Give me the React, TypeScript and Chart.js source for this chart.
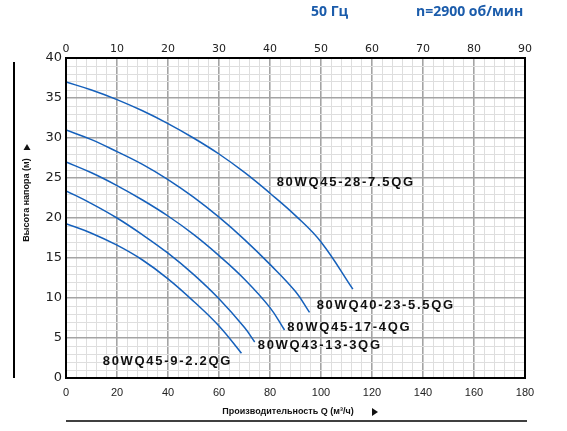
import React, { useEffect, useRef } from "react";
import { Chart, registerables } from "chart.js";

Chart.register(...registerables);

// ---- data ----
const seriesNames = [
  "80WQ45-28-7.5QG",
  "80WQ40-23-5.5QG",
  "80WQ45-17-4QG",
  "80WQ43-13-3QG",
  "80WQ45-9-2.2QG",
];
const q1 = [0, 10, 20, 30, 40, 50, 60, 70, 80, 90, 100, 112.5];
const h1 = [37, 36, 34.8, 33.4, 31.8, 30.0, 28.0, 25.7, 23.1, 20.3, 17.0, 11.1];
const q2 = [0, 10, 20, 30, 40, 50, 60, 70, 80, 90, 95.5];
const h2 = [31, 29.8, 28.3, 26.7, 24.8, 22.6, 20.1, 17.3, 14.2, 10.8, 8.2];
const q3 = [0, 10, 20, 30, 40, 50, 60, 70, 80, 85.7];
const h3 = [27, 25.65, 24.05, 22.25, 20.25, 17.95, 15.3, 12.35, 8.8, 6.0];
const q4 = [0, 10, 20, 30, 40, 50, 60, 70, 74];
const h4 = [23.4, 21.8, 20.0, 17.9, 15.6, 12.95, 9.9, 6.3, 4.5];
const q5 = [0, 10, 20, 30, 40, 50, 60, 68.8];
const h5 = [19.3, 18.1, 16.6, 14.75, 12.4, 9.6, 6.5, 3.1];

const labelQ = [82.6, 98.3, 86.8, 75.2, 14.4];
const labelH = [24.5, 9.1, 6.35, 4.1, 2.1];

const title1 = "50 Гц";
const title2 = "n=2900 об/мин";
const yTitle = "Высота напора (м)";
const xTitle = "Производительность Q (м³/ч)";

const qMax = 180;
const hMax = 40;
const topMax = 90;

const LINE = "#1560bb";

export default function App() {
  const ref = useRef<HTMLCanvasElement>(null);

  useEffect(() => {
    const canvas = ref.current!;
    const qs = [q1, q2, q3, q4, q5];
    const hs = [h1, h2, h3, h4, h5];
    const datasets = seriesNames.map((name, i) => ({
      label: name,
      data: qs[i].map((q, j) => ({ x: q, y: hs[i][j] })),
      borderColor: LINE,
      borderWidth: 1.5,
      pointRadius: 0,
      fill: false,
      tension: 0.4,
      xAxisID: "x",
      yAxisID: "y",
    }));

    const deco = {
      id: "deco",
      afterDatasetsDraw(chart: any) {
        const ctx = chart.ctx;
        const a = chart.chartArea;
        const xs = chart.scales.x;
        const ys = chart.scales.y;
        ctx.save();
        // frame
        ctx.strokeStyle = "#000";
        ctx.lineWidth = 2;
        ctx.strokeRect(a.left, a.top, a.right - a.left, a.bottom - a.top);

        // model labels
        ctx.fillStyle = "#111";
        ctx.font = "bold 13px 'Liberation Sans', Arial, sans-serif";
        (ctx as any).letterSpacing = "1.7px";
        ctx.textAlign = "left";
        ctx.textBaseline = "middle";
        seriesNames.forEach((n, i) => {
          ctx.fillText(n, xs.getPixelForValue(labelQ[i]), ys.getPixelForValue(labelH[i]));
        });
        (ctx as any).letterSpacing = "0px";

        // header titles
        ctx.fillStyle = "#1b5cab";
        ctx.font = "bold 14px 'Open Sans', sans-serif";
        ctx.textBaseline = "middle";
        ctx.fillText(title1, 311, 12);
        ctx.fillText(title2, 416, 12);

        // left title
        ctx.fillStyle = "#111";
        ctx.save();
        ctx.translate(27, 200);
        ctx.rotate(-Math.PI / 2);
        ctx.font = "bold 9px 'Liberation Sans', Arial, sans-serif";
        ctx.textAlign = "center";
        ctx.textBaseline = "middle";
        ctx.fillText(yTitle, 0, 0);
        ctx.restore();
        // up arrow
        ctx.beginPath();
        ctx.moveTo(27, 144);
        ctx.lineTo(23.5, 150);
        ctx.lineTo(30.5, 150);
        ctx.closePath();
        ctx.fill();
        // left vertical line
        ctx.lineWidth = 2;
        ctx.beginPath();
        ctx.moveTo(14, 62);
        ctx.lineTo(14, 378);
        ctx.stroke();

        // bottom title
        ctx.font = "bold 9px 'Liberation Sans', Arial, sans-serif";
        ctx.textAlign = "center";
        ctx.fillText(xTitle, 288, 412);
        ctx.beginPath();
        ctx.moveTo(372, 408);
        ctx.lineTo(378, 412);
        ctx.lineTo(372, 416);
        ctx.closePath();
        ctx.fill();
        ctx.lineWidth = 1.5;
        ctx.beginPath();
        ctx.moveTo(a.left, 421);
        ctx.lineTo(a.right + 2, 421);
        ctx.stroke();
        ctx.restore();
      },
    };

    const chart = new Chart(canvas, {
      type: "line",
      data: { datasets },
      options: {
        animation: false,
        responsive: false,
        devicePixelRatio: 1,
        layout: { padding: { left: 0, right: 42, top: 0, bottom: 0 } },
        plugins: { legend: { display: false }, tooltip: { enabled: false } },
        scales: {
          x: {
            type: "linear",
            position: "bottom",
            min: 0,
            max: qMax,
            afterFit: (s: any) => {
              s.height = 53;
            },
            border: { display: false },
            grid: {
              drawTicks: false,
              color: (c: any) => (c.tick && c.tick.value % 20 === 0 ? "#a4a4a4" : "#dedede"),
              lineWidth: (c: any) => (c.tick && c.tick.value % 20 === 0 ? 1.6 : 1),
            },
            ticks: {
              stepSize: 4,
              autoSkip: false,
              maxRotation: 0,
              padding: 8,
              color: "#222",
              font: { family: "'Liberation Sans', Arial, sans-serif", size: 11 },
              callback: (v: any) => (Math.round(v) % 20 === 0 ? String(Math.round(v)) : ""),
            },
          },
          x2: {
            type: "linear",
            position: "top",
            min: 0,
            max: topMax,
            afterFit: (s: any) => {
              s.height = 58;
            },
            border: { display: false },
            grid: { display: false, drawTicks: false },
            ticks: {
              stepSize: 10,
              autoSkip: false,
              maxRotation: 0,
              padding: 2,
              color: "#222",
              font: { family: "'DejaVu Sans', sans-serif", size: 11 },
            },
          },
          y: {
            type: "linear",
            position: "left",
            min: 0,
            max: hMax,
            afterFit: (s: any) => {
              s.width = 66;
            },
            border: { display: false },
            grid: {
              drawTicks: false,
              color: (c: any) => (c.tick && c.tick.value % 5 === 0 ? "#a4a4a4" : "#dedede"),
              lineWidth: (c: any) => (c.tick && c.tick.value % 5 === 0 ? 1.6 : 1),
            },
            ticks: {
              stepSize: 1,
              autoSkip: false,
              padding: 4,
              color: "#222",
              font: { family: "'DejaVu Sans', sans-serif", size: 13 },
              callback: (v: any) => (Math.round(v) % 5 === 0 ? String(Math.round(v)) : ""),
            },
          },
        },
      },
      plugins: [deco],
    });
    return () => chart.destroy();
  }, []);

  return (
    <div style={{ position: "fixed", left: 0, top: 0, width: 567, height: 431, background: "#fff" }}>
      <canvas ref={ref} width={567} height={431} style={{ width: 567, height: 431 }} />
    </div>
  );
}
